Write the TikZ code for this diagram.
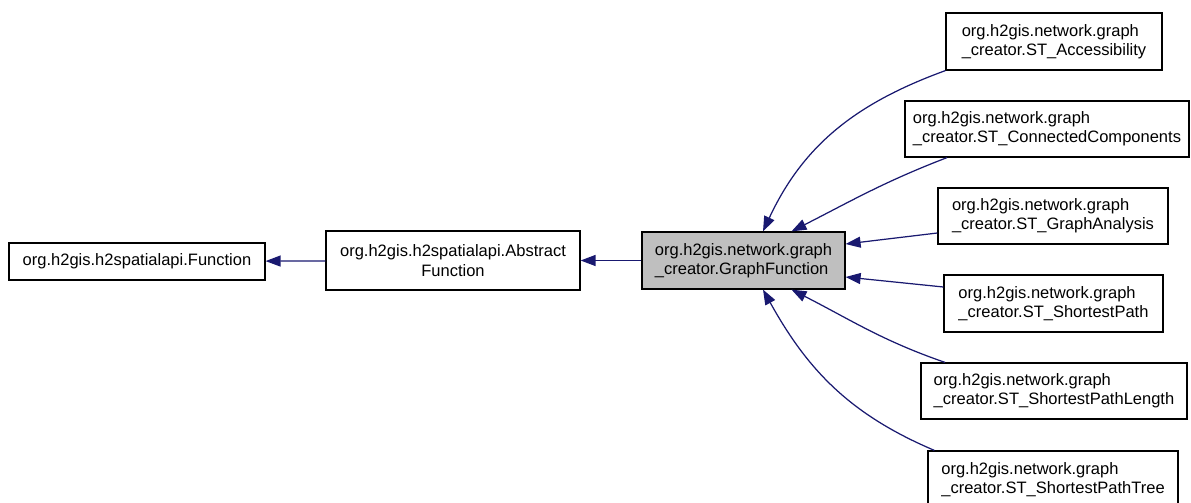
\documentclass[tikz,border=0pt]{standalone}
\usepackage{fontspec}
\setmainfont{Liberation Sans}
\usetikzlibrary{arrows.meta}
\definecolor{edgecolor}{RGB}{25,25,112}
\definecolor{basecolor}{RGB}{191,191,191}

\begin{document}
\begin{tikzpicture}[x=0.02cm, y=-0.02cm,
    every node/.style={font=\fontsize{9.4}{11}\selectfont},
    classbox/.style={draw=black, line width=0.7pt, fill=white, inner sep=0pt, align=left},
    inherit/.style={edgecolor, line width=0.7pt, -{Triangle[length=0.3cm, width=0.22cm]}}]

% Canvas
\useasboundingbox (0,0) rectangle (1191,503);

% Base classes
\node[classbox, minimum width=5.12cm, minimum height=0.74cm] (func) at (137,261.5) {org.h2gis.h2spatialapi.Function};
\node[classbox, align=center, minimum width=5.08cm, minimum height=1.18cm] (abstract) at (453,260.5) {org.h2gis.h2spatialapi.Abstract\\Function};
\node[classbox, fill=basecolor, minimum width=4.06cm, minimum height=1.14cm] (graphfn) at (743.5,260.5) {org.h2gis.network.graph\\\_creator.GraphFunction};

% Subclasses
\node[classbox, minimum width=4.32cm, minimum height=1.14cm] (access) at (1054,41.5) {org.h2gis.network.graph\\\_creator.ST\_Accessibility};
\node[classbox, minimum width=5.68cm, minimum height=1.12cm] (conncomp) at (1047,129) {org.h2gis.network.graph\\\_creator.ST\_ConnectedComponents};
\node[classbox, minimum width=4.6cm, minimum height=1.12cm] (analysis) at (1053,216) {org.h2gis.network.graph\\\_creator.ST\_GraphAnalysis};
\node[classbox, minimum width=4.38cm, minimum height=1.14cm] (shortest) at (1053.5,303.5) {org.h2gis.network.graph\\\_creator.ST\_ShortestPath};
\node[classbox, minimum width=5.32cm, minimum height=1.12cm] (length) at (1054,391) {org.h2gis.network.graph\\\_creator.ST\_ShortestPathLength};
\node[classbox, minimum width=5.0cm, minimum height=1.14cm] (tree) at (1053,479.5) {org.h2gis.network.graph\\\_creator.ST\_ShortestPathTree};

% Inheritance arrows
\draw[inherit] (abstract) -- (func);
\draw[inherit] (graphfn) -- (abstract);
\draw[inherit] (access.south west) to[out=200, in=65] ([xshift=0.39cm]graphfn.north);
\draw[inherit] ([xshift=-2cm]conncomp.south) to[out=201, in=27] ([xshift=0.96cm]graphfn.north);
\draw[inherit] ([yshift=-0.34cm]analysis.west) -- ([yshift=0.33cm]graphfn.east);
\draw[inherit] ([yshift=0.33cm]shortest.west) -- ([yshift=-0.33cm]graphfn.east);
\draw[inherit] ([xshift=-2.18cm]length.north) to[out=161, in=333] ([xshift=0.96cm]graphfn.south);
\draw[inherit] ([xshift=0.14cm]tree.north west) to[out=157, in=299] ([xshift=0.39cm]graphfn.south);

\end{tikzpicture}
\end{document}
